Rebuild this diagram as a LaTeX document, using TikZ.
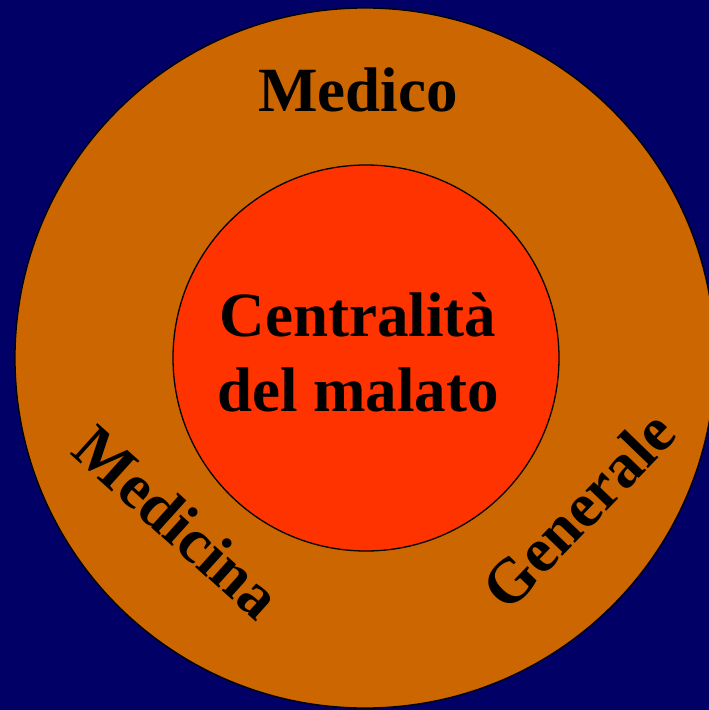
\documentclass[tikz,border=0pt]{standalone}
\usepackage{fontspec}
\setmainfont{Liberation Serif}
\usepackage{tikz}
\definecolor{fondoblu}{HTML}{000066}
\definecolor{ocra}{HTML}{CC6600}
\definecolor{rosso}{HTML}{FF3300}
\newcommand{\disco}[4]{ \node[shape=circle,draw=black,line width=1.3pt,fill=#4,inner sep=0pt,minimum size=#3] (#1) at #2 {};}
\newcommand{\parola}[4]{\node[font=\bfseries\fontsize{63}{75}\selectfont,align=center,inner sep=0pt,rotate=#3] (#1) at #2 {#4};}

\begin{document}
\begin{tikzpicture}[x=1pt,y=-1pt]
% background
\fill[fondoblu] (0,0) rectangle (709,710);
\useasboundingbox (0,0) rectangle (709,710);
% the two circles
\disco{esterno}{(365,358)}{700pt}{ocra}
\disco{interno}{(366,358)}{386pt}{rosso}
% labels
\node[font=\bfseries\fontsize{63}{75}\selectfont,anchor=base,inner sep=0pt] (medico) at (358,111) {Medico};
\parola{centro}{(358,352)}{0}{Centralità\\del malato}
\parola{medicina}{(178,522)}{-42}{Medicina}
\parola{generale}{(578,510)}{46}{Generale}
\end{tikzpicture}
\end{document}
